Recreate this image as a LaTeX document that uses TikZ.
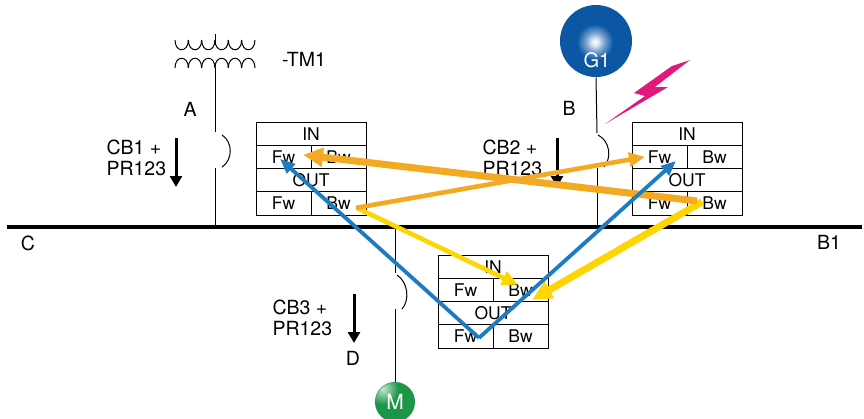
\documentclass[tikz,border=0pt]{standalone}
\usepackage{fontspec}
\setmainfont{TeX Gyre Heros}
\usetikzlibrary{arrows.meta,calc}
\definecolor{flowor}{HTML}{F4A922}
\definecolor{flowye}{HTML}{FFD500}
\definecolor{flowbl}{HTML}{1D7CC1}
\definecolor{genbl}{HTML}{0B57A4}
\definecolor{motgr}{HTML}{1A9646}
\definecolor{boltmg}{HTML}{E3187F}
\pgfdeclareradialshading{genglow}{\pgfpointorigin}{color(0bp)=(white); color(2.5bp)=(white!85!genbl); color(6.5bp)=(white!45!genbl); color(12.5bp)=(genbl); color(50bp)=(genbl)}
\pgfdeclareradialshading{motglow}{\pgfpointorigin}{color(0bp)=(white!75!motgr); color(6bp)=(white!40!motgr); color(13bp)=(motgr); color(50bp)=(motgr)}
\tikzset{
	cell/.style={
		draw,
		line width = 1pt,
		inner sep = 0pt,
		minimum height = 23.25pt,
		font = \fontsize{17.5}{19}\selectfont
	},
	half/.style={
		cell,
		minimum width = 55pt
	},
	full/.style={
		cell,
		minimum width = 110pt
	},
	lbl/.style={
		inner sep = 0pt,
		font = \fontsize{19.5}{21}\selectfont
	},
	trip/.style={
		-{Triangle[length=11pt,width=12pt]},
		line width = 3pt
	},
	thinflow/.style={
		-{Triangle[length=16pt,width=14pt]},
		line width = 4.6pt
	},
	thickflow/.style={
		-{Triangle[length=20pt,width=18pt]},
		line width = 7pt
	},
	blueflow/.style={
		-{Triangle[length=15pt,width=12pt]},
		line width = 3.8pt,
		flowbl
	},
}

\begin{document}
\begin{tikzpicture}[x=1pt, y=-1pt, line width=1pt]
    \useasboundingbox (0,0) rectangle (864,418);
    \coordinate (busL) at (7,227);
    \coordinate (busR) at (862,227);
    \draw[line width=3.5pt] (busL) -- (busR);
    \node[lbl] (c) at (28,243) {C};
    \node[lbl] (b1) at (829,242) {B1};

    \foreach \i in {0,...,5}{
      \draw ({175+13.33*\i},40) .. controls +(0,13) and +(0,13) .. ++(13.33,0);
      \draw ({175+13.33*\i},68) .. controls +(0,-13) and +(0,-13) .. ++(13.33,0);
    }
    \draw (215,34) -- (215,42);
    \coordinate (tm) at (215,68);
    \node[lbl] (tmlbl) at (304,59) {-TM1};
    \node[lbl] (a) at (190,109) {A};
    \coordinate (cba-t) at (215,132);
    \coordinate (cba-b) at (215,168);
    \draw (tm) -- (cba-t);
    \draw (cba-b) -- (cba-b |- busL);
    \draw (222,135) .. controls (233,142) and (233,160) .. (222,167);
    \node[lbl, align=left, anchor=west] (cb1) at (106,158) {CB1 +\\PR123};
    \draw[trip] (176,138) -- (176,187);

    \node[circle, fill=genbl, inner sep=0, minimum size=72pt] (g1) at (596,41) {};
    \begin{scope}
      \clip (g1.center) circle (35.5);
      \shade[shading=genglow] (595,42) circle (36);
    \end{scope}
    \node[text=white, inner sep=0, font=\fontsize{20}{21}\selectfont] (g1lbl) at (597,60) {G1};
    \node[lbl] (b) at (569,108) {B};
    \coordinate (cbb-t) at (597,133);
    \coordinate (cbb-b) at (597,168);
    \draw (g1.south) -- (cbb-t);
    \draw (cbb-b) -- (cbb-b |- busL);
    \draw (598,135) .. controls (610,141) and (612,158) .. (604,167);
    \node[lbl, align=left, anchor=west] (cb2) at (482,158) {CB2 +\\PR123};
    \draw[trip] (557,138) -- (557,187);
    \fill[boltmg] (690,60) -- (655,87) -- (668,87) -- (605,124) -- (645,96) -- (634,93) -- (672,66) -- cycle;

    \node[circle, fill=motgr, inner sep=0, minimum size=40pt] (mot) at (395,402) {};
    \begin{scope}
      \clip (mot.center) circle (19.5);
      \shade[shading=motglow] (383,389) circle (30);
    \end{scope}
    \node[text=white, inner sep=0, font=\fontsize{21}{22}\selectfont] (mlbl) at (395,402) {M};
    \coordinate (cbd-t) at (395,273);
    \coordinate (cbd-b) at (395,309);
    \draw (cbd-t |- busL) -- (cbd-t);
    \draw (cbd-b) -- (mot.north);
    \draw (397,275) .. controls (408,282) and (410,300) .. (402,309);
    \node[lbl, align=left, anchor=west] (cb3) at (272,318) {CB3 +\\PR123};
    \draw[trip] (354,294) -- (354,343);
    \node[lbl] (d) at (353,358) {D};

    \foreach \n/\x/\y in {r1/256/122, r2/632/122, r3/438/255}{
      \node[full] (\n-in) at ({\x+55},{\y+11.625}) {IN};
      \node[half] (\n-fi) at ({\x+27.5},{\y+34.875}) {Fw};
      \node[half] (\n-bi) at ({\x+82.5},{\y+34.875}) {Bw};
      \node[full] (\n-out) at ({\x+55},{\y+58.125}) {OUT};
      \node[half] (\n-fo) at ({\x+27.5},{\y+81.375}) {Fw};
      \node[half] (\n-bo) at ({\x+82.5},{\y+81.375}) {Bw};
    }

    \draw[thinflow, flowye] ($(r1-bo)+(18.5,4.5)$) -- ($(r3-bi)+(-2.5,-5)$);
    \draw[thickflow, flowye] ($(r2-bo)+(-12.5,-1.5)$) -- ($(r3-bi)+(11.5,10)$);
    \draw[thinflow, flowor] ($(r1-bo)+(17.5,4.5)$) -- ($(r2-fi)+(-14.5,0)$);
    \draw[thickflow, flowor] ($(r2-bo)+(-17.5,-2.4)$) -- ($(r1-fi)+(19.5,-2)$);
    \draw[blueflow] ($(r3-fo)+(13.5,1.5)$) -- ($(r1-fi)+(-3.5,2)$);
    \draw[blueflow] ($(r3-fo)+(13.5,1.5)$) -- ($(r2-fi)+(16.5,4)$);
  \end{tikzpicture}
\end{document}
